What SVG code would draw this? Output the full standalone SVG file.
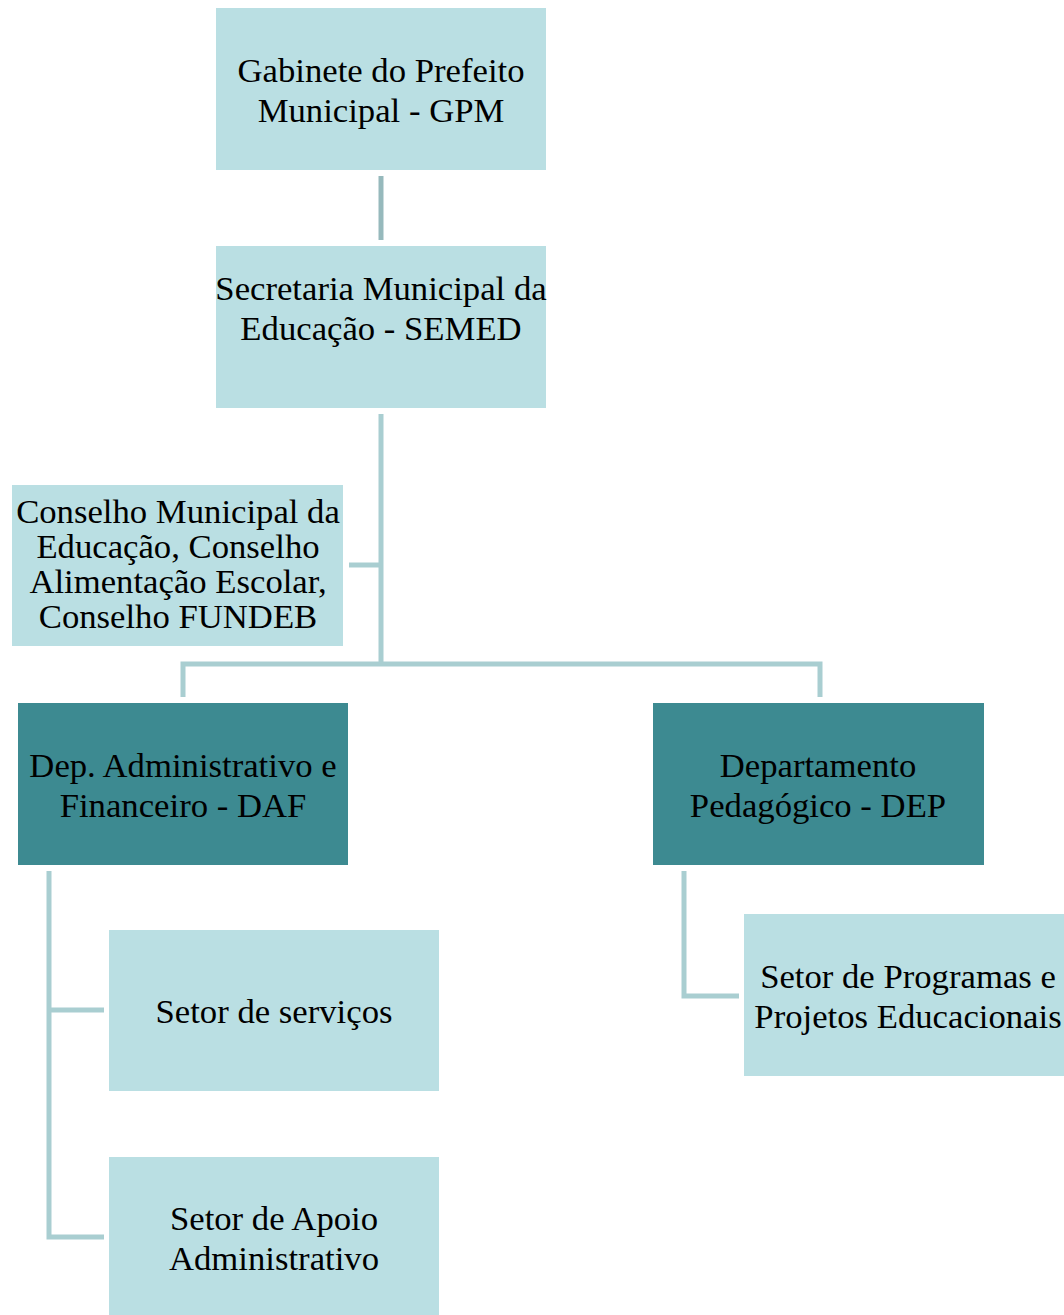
<svg xmlns="http://www.w3.org/2000/svg" width="1064" height="1315" viewBox="0 0 1064 1315">
<style>
.light{fill:#BADFE3;}
.dark{fill:#3D8A91;}
.t{font-family:"Liberation Serif","Times New Roman",serif;font-size:34.7px;fill:#000;text-anchor:middle;}
.ln{stroke:#A9CED1;stroke-width:5;fill:none;}
.ln2{stroke:#96B9BC;stroke-width:5;fill:none;}
</style>
<rect width="1064" height="1315" fill="#fff"/>
<g id="connectors">
<line class="ln2" x1="381" y1="176" x2="381" y2="240"/>
<path class="ln" d="M381 414 V664"/>
<path class="ln" d="M349 565 H381"/>
<path class="ln" d="M183 697 V664 H820 V697"/>
<path class="ln" d="M49 871 V1237 H104"/>
<path class="ln" d="M49 1010 H104"/>
<path class="ln" d="M684 871 V996 H739"/>
</g>
<g id="gpm">
<rect class="light" x="216" y="8" width="330" height="162"/>
<text class="t" x="381" y="82">Gabinete do Prefeito</text>
<text class="t" x="381" y="122">Municipal - GPM</text>
</g>
<g id="semed">
<rect class="light" x="216" y="246" width="330" height="162"/>
<text class="t" x="381" y="300">Secretaria Municipal da</text>
<text class="t" x="381" y="340">Educação - SEMED</text>
</g>
<g id="conselho">
<rect class="light" x="12" y="485" width="331" height="161"/>
<text class="t" x="178" y="523">Conselho Municipal da</text>
<text class="t" x="178" y="558">Educação, Conselho</text>
<text class="t" x="178" y="593">Alimentação Escolar,</text>
<text class="t" x="178" y="628">Conselho FUNDEB</text>
</g>
<g id="daf">
<rect class="dark" x="18" y="703" width="330" height="162"/>
<text class="t" x="183" y="777">Dep. Administrativo e</text>
<text class="t" x="183" y="817">Financeiro - DAF</text>
</g>
<g id="dep">
<rect class="dark" x="653" y="703" width="331" height="162"/>
<text class="t" x="818" y="777">Departamento</text>
<text class="t" x="818" y="817">Pedagógico - DEP</text>
</g>
<g id="servicos">
<rect class="light" x="109" y="930" width="330" height="161"/>
<text class="t" x="274" y="1023">Setor de serviços</text>
</g>
<g id="apoio">
<rect class="light" x="109" y="1157" width="330" height="162"/>
<text class="t" x="274" y="1230">Setor de Apoio</text>
<text class="t" x="274" y="1270">Administrativo</text>
</g>
<g id="programas">
<rect class="light" x="744" y="914" width="330" height="162"/>
<text class="t" x="908" y="988">Setor de Programas e</text>
<text class="t" x="908" y="1028">Projetos Educacionais</text>
</g>
</svg>
